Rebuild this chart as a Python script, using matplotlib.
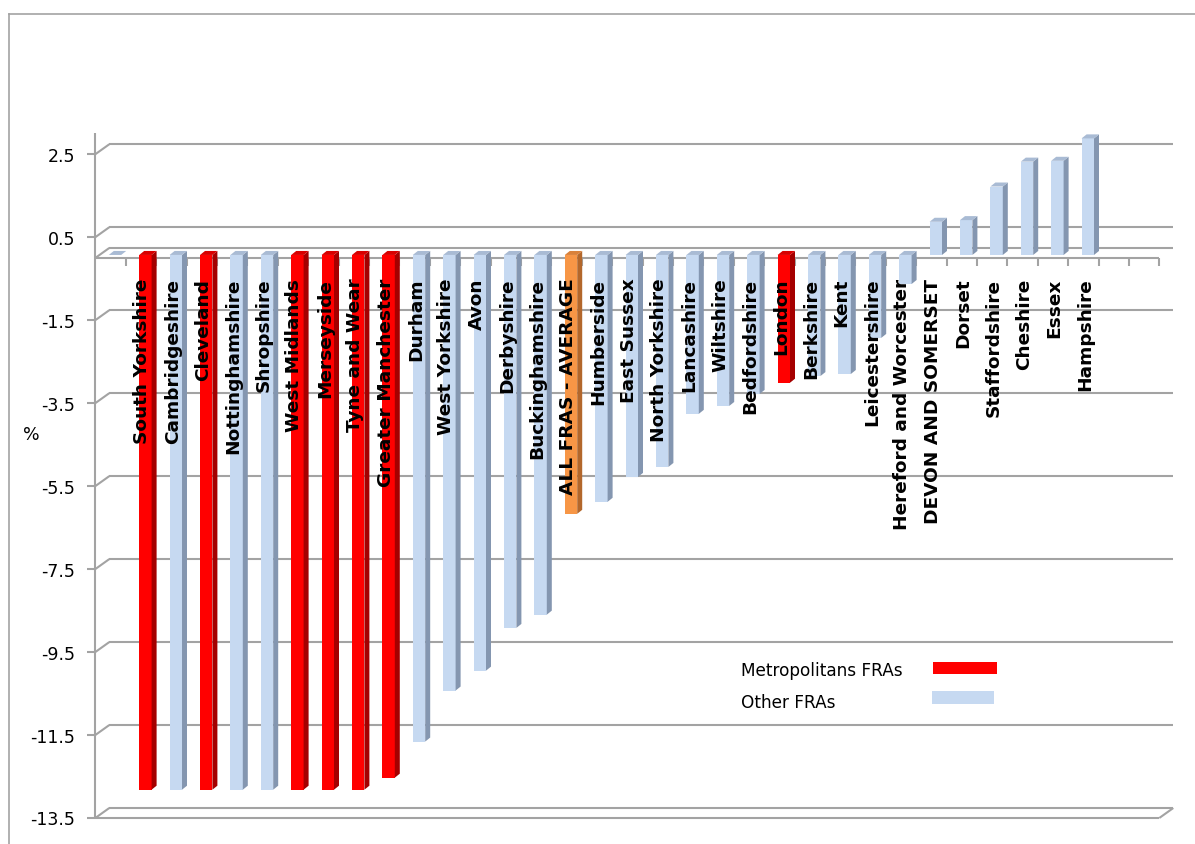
import matplotlib
matplotlib.use("Agg")
import matplotlib.pyplot as plt
from matplotlib.patches import Polygon, Rectangle
from matplotlib.lines import Line2D

# ---- data (percent change per FRA) ----
categories = ["", "South Yorkshire", "Cambridgeshire", "Cleveland", "Nottinghamshire",
              "Shropshire", "West Midlands", "Merseyside", "Tyne and Wear",
              "Greater Manchester", "Durham", "West Yorkshire", "Avon", "Derbyshire",
              "Buckinghamshire", "ALL FRAS - AVERAGE", "Humberside", "East Sussex",
              "North Yorkshire", "Lancashire", "Wiltshire", "Bedfordshire", "London",
              "Berkshire", "Kent", "Leicestershire", "Hereford and Worcester",
              "DEVON AND SOMERSET", "Dorset", "Staffordshire", "Cheshire", "Essex",
              "Hampshire"]
values = [0.0, -12.89, -12.89, -12.89, -12.89, -12.89, -12.89, -12.89, -12.89,
          -12.6, -11.73, -10.5, -10.02, -8.99, -8.67, -6.24, -5.95, -5.35, -5.11,
          -3.83, -3.64, -3.35, -3.08, -2.92, -2.87, -2.0, -0.70, 0.80, 0.84, 1.65,
          2.25, 2.27, 2.81]
groups = ["other", "metro", "other", "metro", "other", "other", "metro", "metro",
          "metro", "metro", "other", "other", "other", "other", "other", "avg",
          "other", "other", "other", "other", "other", "other", "metro", "other",
          "other", "other", "other", "other", "other", "other", "other", "other",
          "other"]
yticks = [2.5, 0.5, -1.5, -3.5, -5.5, -7.5, -9.5, -11.5, -13.5]
legend_labels = ["Metropolitans FRAs", "Other FRAs"]

COLORS = {  # front, side, top
    "metro": ("#FF0000", "#A50000", "#D80000"),
    "other": ("#C6D9F1", "#8496B0", "#A9BBD4"),
    "avg": ("#F79646", "#B3672B", "#D9813A"),
}
GRID = "#A3A3A3"

W, H, DPI = 1195, 844, 100
N_SLOTS = len(categories) + 2          # two empty slots at the right
YMIN, YMAX = -13.5, 3.0
L, T, R, B = 102.3, 128.5, 1166.3, 813.0   # bar (mid-depth) plane in pixels
SX = (R - L) / N_SLOTS
SY = (B - T) / (YMAX - YMIN)

fig = plt.figure(figsize=(W / DPI, H / DPI), dpi=DPI)
ax = fig.add_axes([L / W, 1 - B / H, (R - L) / W, (B - T) / H])
ax.set_xlim(-0.5, N_SLOTS - 0.5)
ax.set_ylim(YMIN, YMAX)
ax.axis("off")

# half depth of the chart box (front <-> back walls)
hx, hy = 7 / SX, 5 / SY
x0, x1 = -0.5, N_SLOTS - 0.5


def line(xs, ys, **kw):
    ax.plot(xs, ys, color=GRID, lw=1.5, clip_on=False, solid_capstyle="butt", **kw)


# back wall gridlines + side wall diagonals
for y in yticks:
    line([x0 + hx, x1 + hx], [y + hy, y + hy], zorder=1)
    line([x0 - hx, x0 + hx], [y - hy, y + hy], zorder=1)
# floor slab at the bottom
line([x0 - hx, x1 - hx], [YMIN - hy, YMIN - hy], zorder=1)
line([x1 - hx, x1 + hx], [YMIN - hy, YMIN + hy], zorder=1)
# zero plane (category axis)
line([x0 + hx, x1 + hx], [hy, hy], zorder=1)
line([x0 - hx, x0 + hx], [-hy, hy], zorder=1)
line([x0 - hx, x1 - hx], [-hy, -hy], zorder=2)
for k in range(1, N_SLOTS + 1):
    line([k - 0.5 - hx] * 2, [-hy, -hy - 8 / SY], zorder=2)
# front value axis, ticks and labels
line([x0 - hx] * 2, [YMIN - hy, YMAX - hy], zorder=2)
for y in yticks:
    line([x0 - hx - 8 / SX, x0 - hx], [y - hy] * 2, zorder=2)
    ax.text(x0 - hx - 20 / SX, y - hy - 2.5 / SY, f"{y}", ha="right", va="center",
            fontsize=12.5, clip_on=False)

# 3-D looking bars
bw = 12.4 / SX
bdx, bdy = 5 / SX, 4 / SY
xs = [i - 2.5 / SX for i in range(len(categories))]
ax.bar(xs, values, bottom=-bdy / 2, width=bw,
       color=[COLORS[g][0] for g in groups], zorder=3, linewidth=0)
for xc, v, g in zip(xs, values, groups):
    _, side, top = COLORS[g]
    xa, xb = xc - bw / 2, xc + bw / 2
    lo, hi = min(v, 0) - bdy / 2, max(v, 0) - bdy / 2
    ax.add_patch(Polygon([(xb, lo), (xb, hi), (xb + bdx, hi + bdy), (xb + bdx, lo + bdy)],
                         closed=True, color=side, lw=0, zorder=3))
    ax.add_patch(Polygon([(xa, hi), (xb, hi), (xb + bdx, hi + bdy), (xa + bdx, hi + bdy)],
                         closed=True, color=top, lw=0, zorder=3))

# category names written inside the plot
for i, name in enumerate(categories):
    ax.text(i - 0.18, -0.62, name, rotation=90, ha="center", va="top",
            fontsize=13.3, fontweight="bold", zorder=4)

fig.text(31 / W, 1 - 435 / H, "%", ha="center", va="center", fontsize=12.5)

# legend (text then swatch, as in the original)
for lab, g, yb, (rx, ry, rw, rh) in zip(legend_labels, ["metro", "other"], [676, 708],
                                        [(933, 662, 64, 12), (932, 691, 62, 13)]):
    fig.text(741 / W, 1 - yb / H, lab, ha="left", va="baseline", fontsize=12.2)
    fig.add_artist(Rectangle((rx / W, 1 - (ry + rh) / H), rw / W, rh / H,
                             transform=fig.transFigure, color=COLORS[g][0], lw=0))

# outer chart frame (partly cropped)
fig.add_artist(Line2D([9 / W, 1], [1 - 14 / H] * 2, color=GRID, lw=1.2))
fig.add_artist(Line2D([9 / W] * 2, [0, 1 - 14 / H], color=GRID, lw=1.2))

fig.savefig("out.png", dpi=DPI)
